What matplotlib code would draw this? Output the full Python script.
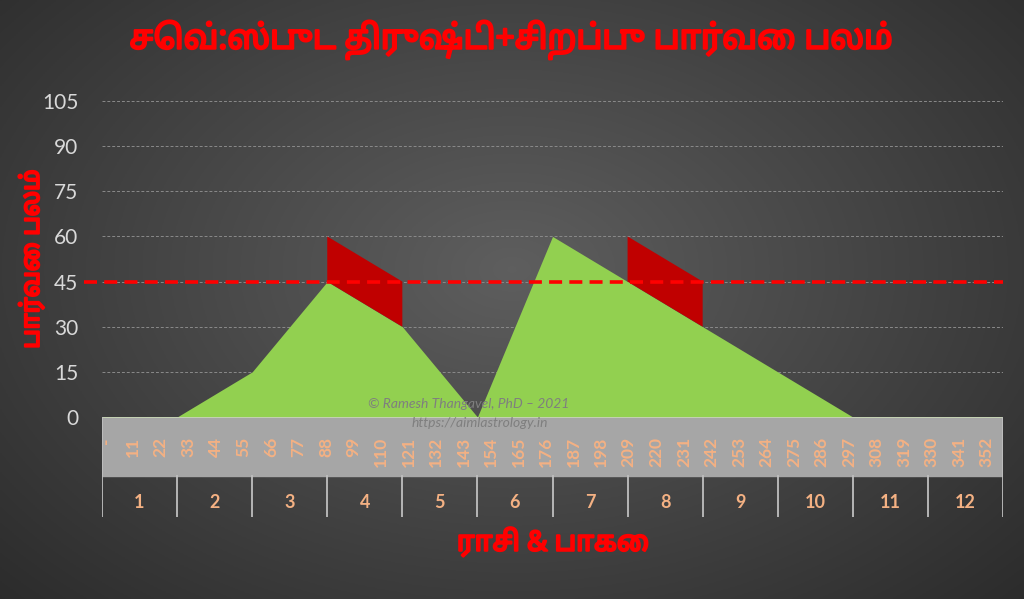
import numpy as np
import matplotlib
matplotlib.use('Agg')
import matplotlib.pyplot as plt
import matplotlib.patheffects as pe

# Mars sphuta drishti by distance (degrees) + special aspects on 4th and 8th
degrees = [0, 30, 60, 90, 120, 150, 180, 210, 240, 270, 300, 359]
drishti = [0, 0, 15, 45, 30, 0, 60, 45, 30, 15, 0, 0]
special = [False, False, False, True, True, False, False, True, True, False, False, False]
special_bonus = 15
full_strength = 45
tick_degrees = list(range(0, 360, 11))
tick_labels = ['-' if d == 0 else str(d) for d in tick_degrees]
rasi = [str(i) for i in range(1, 13)]

title = 'செவ்:ஸ்புட திருஷ்டி+சிறப்பு பார்வை பலம்'
ylabel = 'பார்வை பலம்'
xlabel = 'ராசி & பாகை'

tamil_font = ['Noto Sans Tamil', 'DejaVu Sans']
peach = '#f4b183'
red_text = '#ff0000'

fig = plt.figure(figsize=(10.24, 5.99), dpi=100)

# radial gradient background
bg = fig.add_axes([0, 0, 1, 1])
yy, xx = np.mgrid[0:1:300j, 0:1:500j]
r = np.sqrt(((xx - 0.5) / 0.7) ** 2 + ((yy - 0.45) / 0.8) ** 2)
g = np.clip(0.17 + 0.2 * (1 - r), 0, 1)
bg.imshow(np.dstack([g, g, g]), aspect='auto', extent=[0, 1, 0, 1])
bg.axis('off')

W, H = 1024.0, 599.0
x0, x1 = 102, 1003
y_top, y_zero = 101, 417
ax = fig.add_axes([x0 / W, (H - y_zero) / H, (x1 - x0) / W, (y_zero - y_top) / H])
ax.patch.set_alpha(0)

drishti_arr = np.array(drishti)
ax.fill_between(degrees, 0, drishti_arr, color='#92d050', linewidth=0, zorder=2)
ax.fill_between(degrees, drishti_arr, drishti_arr + special_bonus, where=special,
                color='#c00000', linewidth=0, zorder=2)

ax.plot([-7, 360], [full_strength, full_strength], color='#ff0000', lw=2.6,
        dashes=(3.6, 2.0), clip_on=False, zorder=4)

ax.set_xlim(0, 360)
ax.set_ylim(0, 105)
ax.set_yticks(range(0, 106, 15))
for yv in range(15, 106, 15):
    ax.axhline(yv, color='#8a8a8a', lw=0.7, dashes=(3, 2), zorder=1)
ax.set_xticks([])
ax.tick_params(axis='y', length=0, pad=17, labelsize=15, labelcolor='#d9d9d9')
for lab in ax.get_yticklabels():
    lab.set_fontfamily('Lato')
for s in ax.spines.values():
    s.set_visible(False)

# multi-level category axis
y_band = 476
y_bottom = 517
cax = fig.add_axes([x0 / W, (H - y_bottom) / H, (x1 - x0) / W, (y_bottom - y_zero) / H])
cax.set_xlim(0, 360)
cax.set_ylim(0, 1)
cax.axis('off')
band_frac = (y_bottom - y_band) / (y_bottom - y_zero)
cax.axhspan(band_frac, 1, color='#a6a6a6', zorder=1)
cax.axhline(1, color='#c9d9b5', lw=1.2, zorder=2)
for d, lab in zip(tick_degrees, tick_labels):
    cax.text(d + 1.5, 0.80, lab, rotation=90, ha='center', va='top', color=peach,
             fontsize=12.5, fontweight='bold', family='Lato', zorder=3)
for k in range(13):
    top = 1 if k in (0, 12) else band_frac
    cax.plot([30 * k, 30 * k], [0, top], color='#bfbfbf', lw=1.3, zorder=3)
for k, lab in enumerate(rasi):
    cax.text(30 * k + 15, 0.14, lab, ha='center', va='center', color=peach,
             fontsize=13, fontweight='bold', family='Lato', zorder=3)

# texts (stroke thickens the Tamil glyphs like the bold original)
bold_fx = [pe.withStroke(linewidth=1.6, foreground=red_text)]
fig.text(511 / W, 1 - 40 / H, title, ha='center', va='center', color=red_text,
         fontsize=24, fontweight='bold', family=tamil_font, path_effects=bold_fx)
fig.text(32 / W, 1 - 259 / H, ylabel, ha='center', va='center', rotation=90,
         color=red_text, fontsize=18, fontweight='bold', family=tamil_font, path_effects=bold_fx)
fig.text(553 / W, 1 - 543 / H, xlabel, ha='center', va='center', color=red_text,
         fontsize=20, fontweight='bold', family=tamil_font, path_effects=bold_fx)

fig.text(469 / W, 1 - 404 / H, '© Ramesh Thangavel, PhD – 2021', ha='center', va='center',
         color='#7f7f7f', fontsize=10, style='italic', family='Lato', zorder=10)
fig.text(480 / W, 1 - 423 / H, 'https://aimlastrology.in', ha='center', va='center',
         color='#7f7f7f', fontsize=10, style='italic', family='Lato', zorder=10)

plt.savefig('out.png')
